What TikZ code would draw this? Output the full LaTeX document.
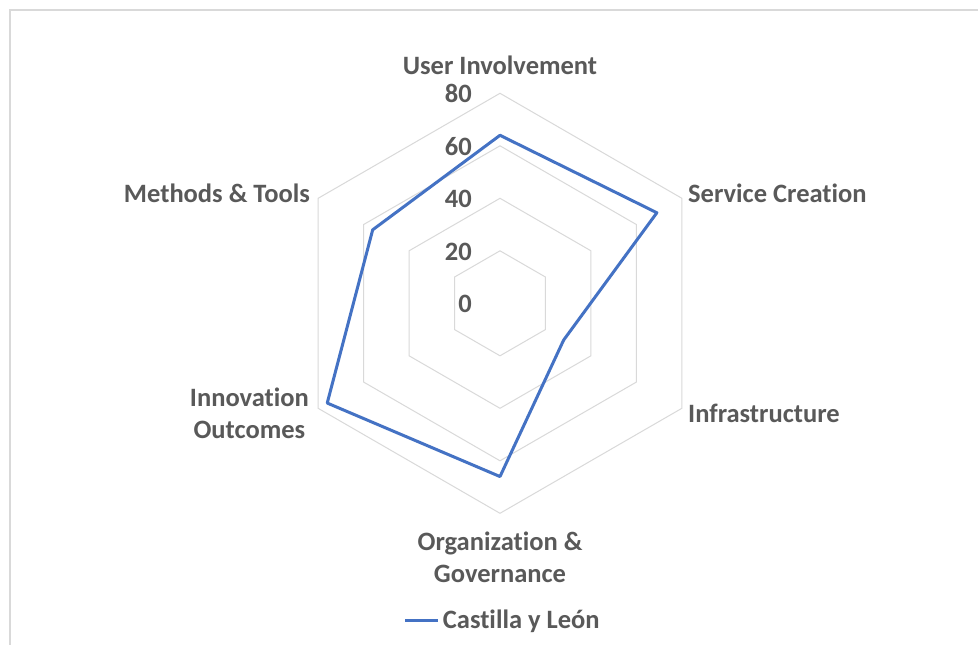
\documentclass[tikz,border=0pt]{standalone}
\usepackage{fontspec}
\setmainfont{Carlito}[Ligatures=NoCommon]
\definecolor{txt}{HTML}{595959}
\definecolor{ser}{HTML}{4472C4}
\definecolor{grd}{HTML}{D9D9D9}
\begin{document}
\begin{tikzpicture}[x=1bp,y=-1bp,
  lbl/.style={text=txt,font=\fontsize{26.6}{32.2}\selectfont\bfseries,inner sep=0pt},
  tick/.style={lbl,anchor=base east},
  grid/.style={draw=grd,line width=1bp},
  series/.style={draw=ser,line width=3bp,line join=round,line cap=round}]
\useasboundingbox (0,0) rectangle (978,645);
\fill[white] (0,0) rectangle (978,645);
\draw[grd,line width=1.6bp] (10,645) -- (10,10) -- (978,10);
\begin{scope}[shift={(500,303.3)}]
  \foreach \v in {20,40,60,80}{
    \pgfmathsetmacro{\r}{\v*2.625}
    \draw[grid] (-90:\r) -- (-30:\r) -- (30:\r) -- (90:\r) -- (150:\r) -- (210:\r) -- cycle;
  }
  \coordinate (ui) at (-90:64*2.625);
  \coordinate (sc) at (-30:69*2.625);
  \coordinate (inf) at (30:28*2.625);
  \coordinate (og) at (90:66*2.625);
  \coordinate (io) at (150:76*2.625);
  \coordinate (mt) at (210:56*2.625);
\end{scope}
\draw[series] (ui) -- (sc) -- (inf) -- (og) -- (io) -- (mt) -- cycle;
\node[tick] (t80) at (472,102.7) {80};
\node[tick] (t60) at (472,155.2) {60};
\node[tick] (t40) at (472,207.7) {40};
\node[tick] (t20) at (472,260.2) {20};
\node[tick] (t0) at (472,312.7) {0};
\node[lbl,anchor=base] (lui) at (500,75) {User Involvement};
\node[lbl,anchor=base west] (lsc) at (688,202.7) {Service Creation};
\node[lbl,anchor=base west] (linf) at (688,422.7) {Infrastructure};
\node[lbl,anchor=base,align=center] (log) at (500,582.7) {Organization \&\\Governance};
\node[lbl,anchor=base east,align=center] (lio) at (309,438.3) {Innovation\\Outcomes};
\node[lbl,anchor=base east] (lmt) at (310,202.7) {Methods \& Tools};
\coordinate (lg1) at (405,620.7);
\coordinate (lg2) at (438,620.7);
\draw[series,line cap=butt] (lg1) -- (lg2);
\node[lbl,anchor=base west] (lgt) at (442.7,628.3) {Castilla y León};
\end{tikzpicture}
\end{document}
